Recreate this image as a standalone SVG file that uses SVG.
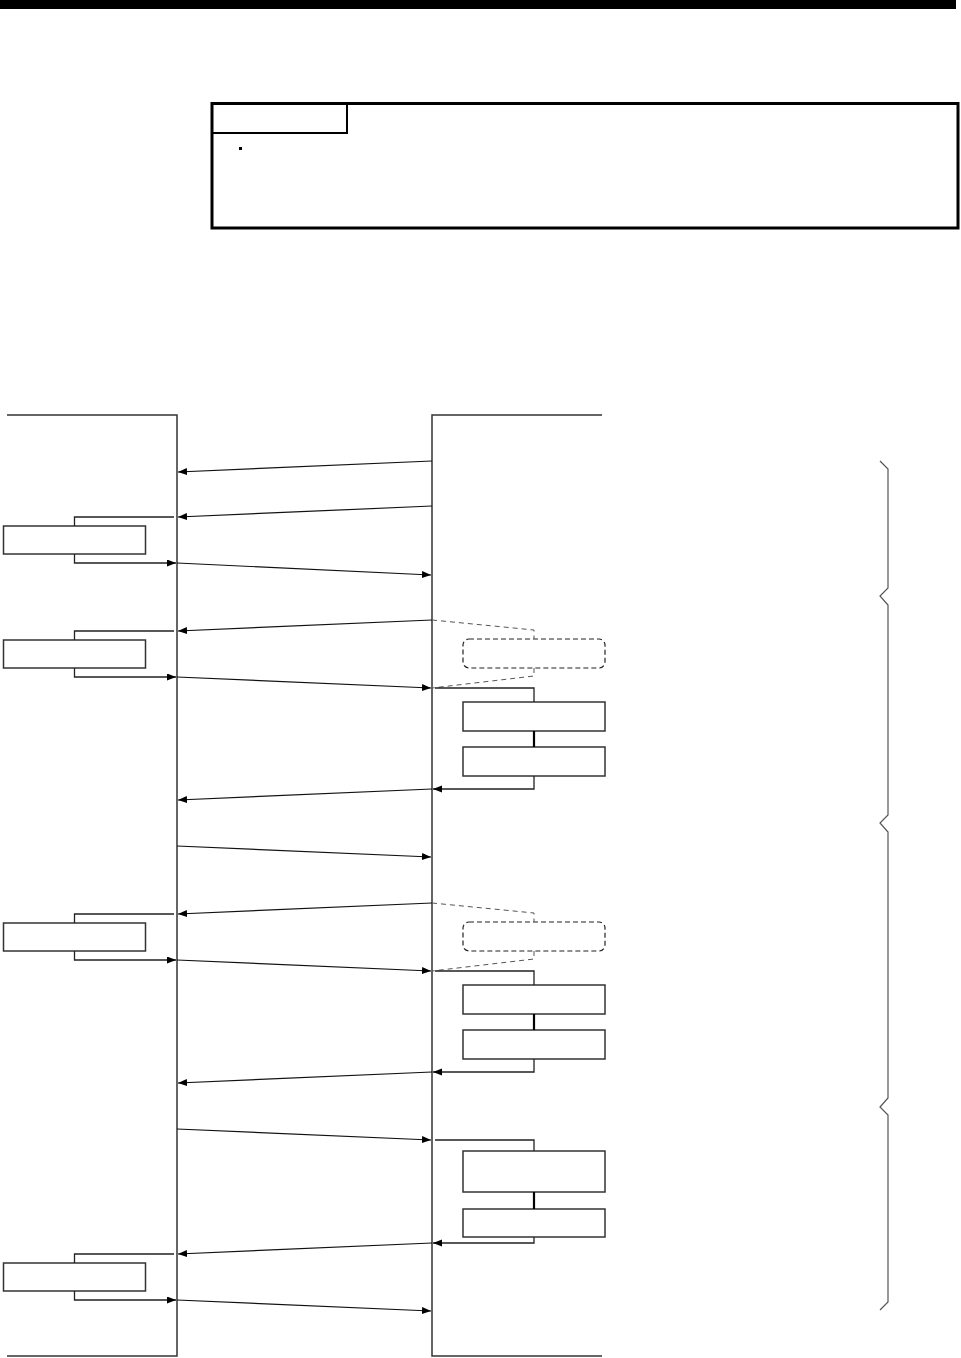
<svg xmlns="http://www.w3.org/2000/svg" width="961" height="1358" viewBox="0 0 961 1358">
<style>
.life{fill:none;stroke:#333;stroke-width:1.5}
.arr{fill:none;stroke:#111;stroke-width:1.2;marker-end:url(#ah)}
.brk{fill:none;stroke:#222;stroke-width:1.3}
.box{fill:#fff;stroke:#333;stroke-width:1.5}
.dash{fill:none;stroke:#555;stroke-width:1;stroke-dasharray:5,4}
.dbox{fill:#fff;stroke:#222;stroke-width:1.2;stroke-dasharray:5,3}
.link{stroke:#000;stroke-width:2.2}
.brace{fill:none;stroke:#555;stroke-width:1.2}
</style>
<defs>
<marker id="ah" markerUnits="userSpaceOnUse" markerWidth="10" markerHeight="8" refX="9" refY="3.5" orient="auto">
<path d="M0,0 L9,3.5 L0,7 z" fill="#000"/>
</marker>
</defs>
<rect width="961" height="1358" fill="#fff"/>
<rect id="topbar" x="0" y="0" width="956" height="9" fill="#000"/>
<g id="note">
<rect x="212" y="103.5" width="746" height="124.5" fill="none" stroke="#000" stroke-width="3"/>
<polyline points="213,133 347,133 347,105" fill="none" stroke="#000" stroke-width="2"/>
<rect x="239" y="147" width="3" height="3" fill="#000"/>
</g>
<g id="lifeline-left">
<polyline class="life" points="7,415 177,415 177,1356 7,1356"/>
</g>
<g id="lifeline-right">
<polyline class="life" points="602,415 432,415 432,1356 602,1356"/>
</g>
<g id="left-box-1">
<rect class="box" x="3.5" y="526" width="142" height="28"/>
</g>
<g id="left-box-2">
<rect class="box" x="3.5" y="640" width="142" height="28"/>
</g>
<g id="left-box-3">
<rect class="box" x="3.5" y="923" width="142" height="28"/>
</g>
<g id="left-box-4">
<rect class="box" x="3.5" y="1263" width="142" height="28"/>
</g>
<g id="right-dbox-1">
<rect class="dbox" x="463" y="639" width="142" height="29" rx="6"/>
</g>
<g id="right-box-1a">
<rect class="box" x="463" y="702" width="142" height="29"/>
</g>
<g id="right-box-1b">
<rect class="box" x="463" y="747" width="142" height="29"/>
</g>
<g id="right-dbox-2">
<rect class="dbox" x="463" y="922" width="142" height="29" rx="6"/>
</g>
<g id="right-box-2a">
<rect class="box" x="463" y="985" width="142" height="29"/>
</g>
<g id="right-box-2b">
<rect class="box" x="463" y="1030" width="142" height="29"/>
</g>
<g id="right-box-3a">
<rect class="box" x="463" y="1151" width="142" height="41"/>
</g>
<g id="right-box-3b">
<rect class="box" x="463" y="1209" width="142" height="28"/>
</g>
<g id="brace">
<polyline class="brace" points="880,461 888,469 888,588 880,596 888,605 888,815 880,823 888,832 888,1098 880,1107 888,1115 888,1302 880,1310"/>
</g>
<g id="connectors">
<line class="arr" x1="432" y1="461" x2="178" y2="472"/>
<line class="arr" x1="432" y1="506" x2="178" y2="517"/>
<line class="arr" x1="177" y1="563" x2="431" y2="575"/>
<line class="arr" x1="432" y1="620" x2="178" y2="631"/>
<line class="arr" x1="177" y1="677" x2="431" y2="688"/>
<line class="arr" x1="432" y1="789" x2="178" y2="800"/>
<line class="arr" x1="177" y1="846" x2="431" y2="857"/>
<line class="arr" x1="432" y1="903" x2="178" y2="914"/>
<line class="arr" x1="177" y1="960" x2="431" y2="971"/>
<line class="arr" x1="432" y1="1072" x2="178" y2="1083"/>
<line class="arr" x1="177" y1="1129" x2="431" y2="1140"/>
<line class="arr" x1="432" y1="1243" x2="178" y2="1254"/>
<line class="arr" x1="177" y1="1300" x2="431" y2="1311"/>
<polyline class="brk" points="174,517 74.5,517 74.5,526"/>
<polyline class="brk" points="74.5,554 74.5,563 176,563" marker-end="url(#ah)"/>
<polyline class="brk" points="174,631 74.5,631 74.5,640"/>
<polyline class="brk" points="74.5,668 74.5,677 176,677" marker-end="url(#ah)"/>
<polyline class="brk" points="174,914 74.5,914 74.5,923"/>
<polyline class="brk" points="74.5,951 74.5,960 176,960" marker-end="url(#ah)"/>
<polyline class="brk" points="174,1254 74.5,1254 74.5,1263"/>
<polyline class="brk" points="74.5,1291 74.5,1300 176,1300" marker-end="url(#ah)"/>
<polyline class="dash" points="432,620 534,630 534,639"/>
<polyline class="dash" points="534,668 534,676 432,688"/>
<polyline class="brk" points="435,688 534,688 534,702"/>
<line class="link" x1="534" y1="731" x2="534" y2="747"/>
<polyline class="brk" points="534,776 534,789 433,789" marker-end="url(#ah)"/>
<polyline class="dash" points="432,903 534,913 534,922"/>
<polyline class="dash" points="534,951 534,959 432,971"/>
<polyline class="brk" points="435,971 534,971 534,985"/>
<line class="link" x1="534" y1="1014" x2="534" y2="1030"/>
<polyline class="brk" points="534,1059 534,1072 433,1072" marker-end="url(#ah)"/>
<polyline class="brk" points="435,1140 534,1140 534,1151"/>
<line class="link" x1="534" y1="1192" x2="534" y2="1209"/>
<polyline class="brk" points="534,1237 534,1243 433,1243" marker-end="url(#ah)"/>
</g>
</svg>
